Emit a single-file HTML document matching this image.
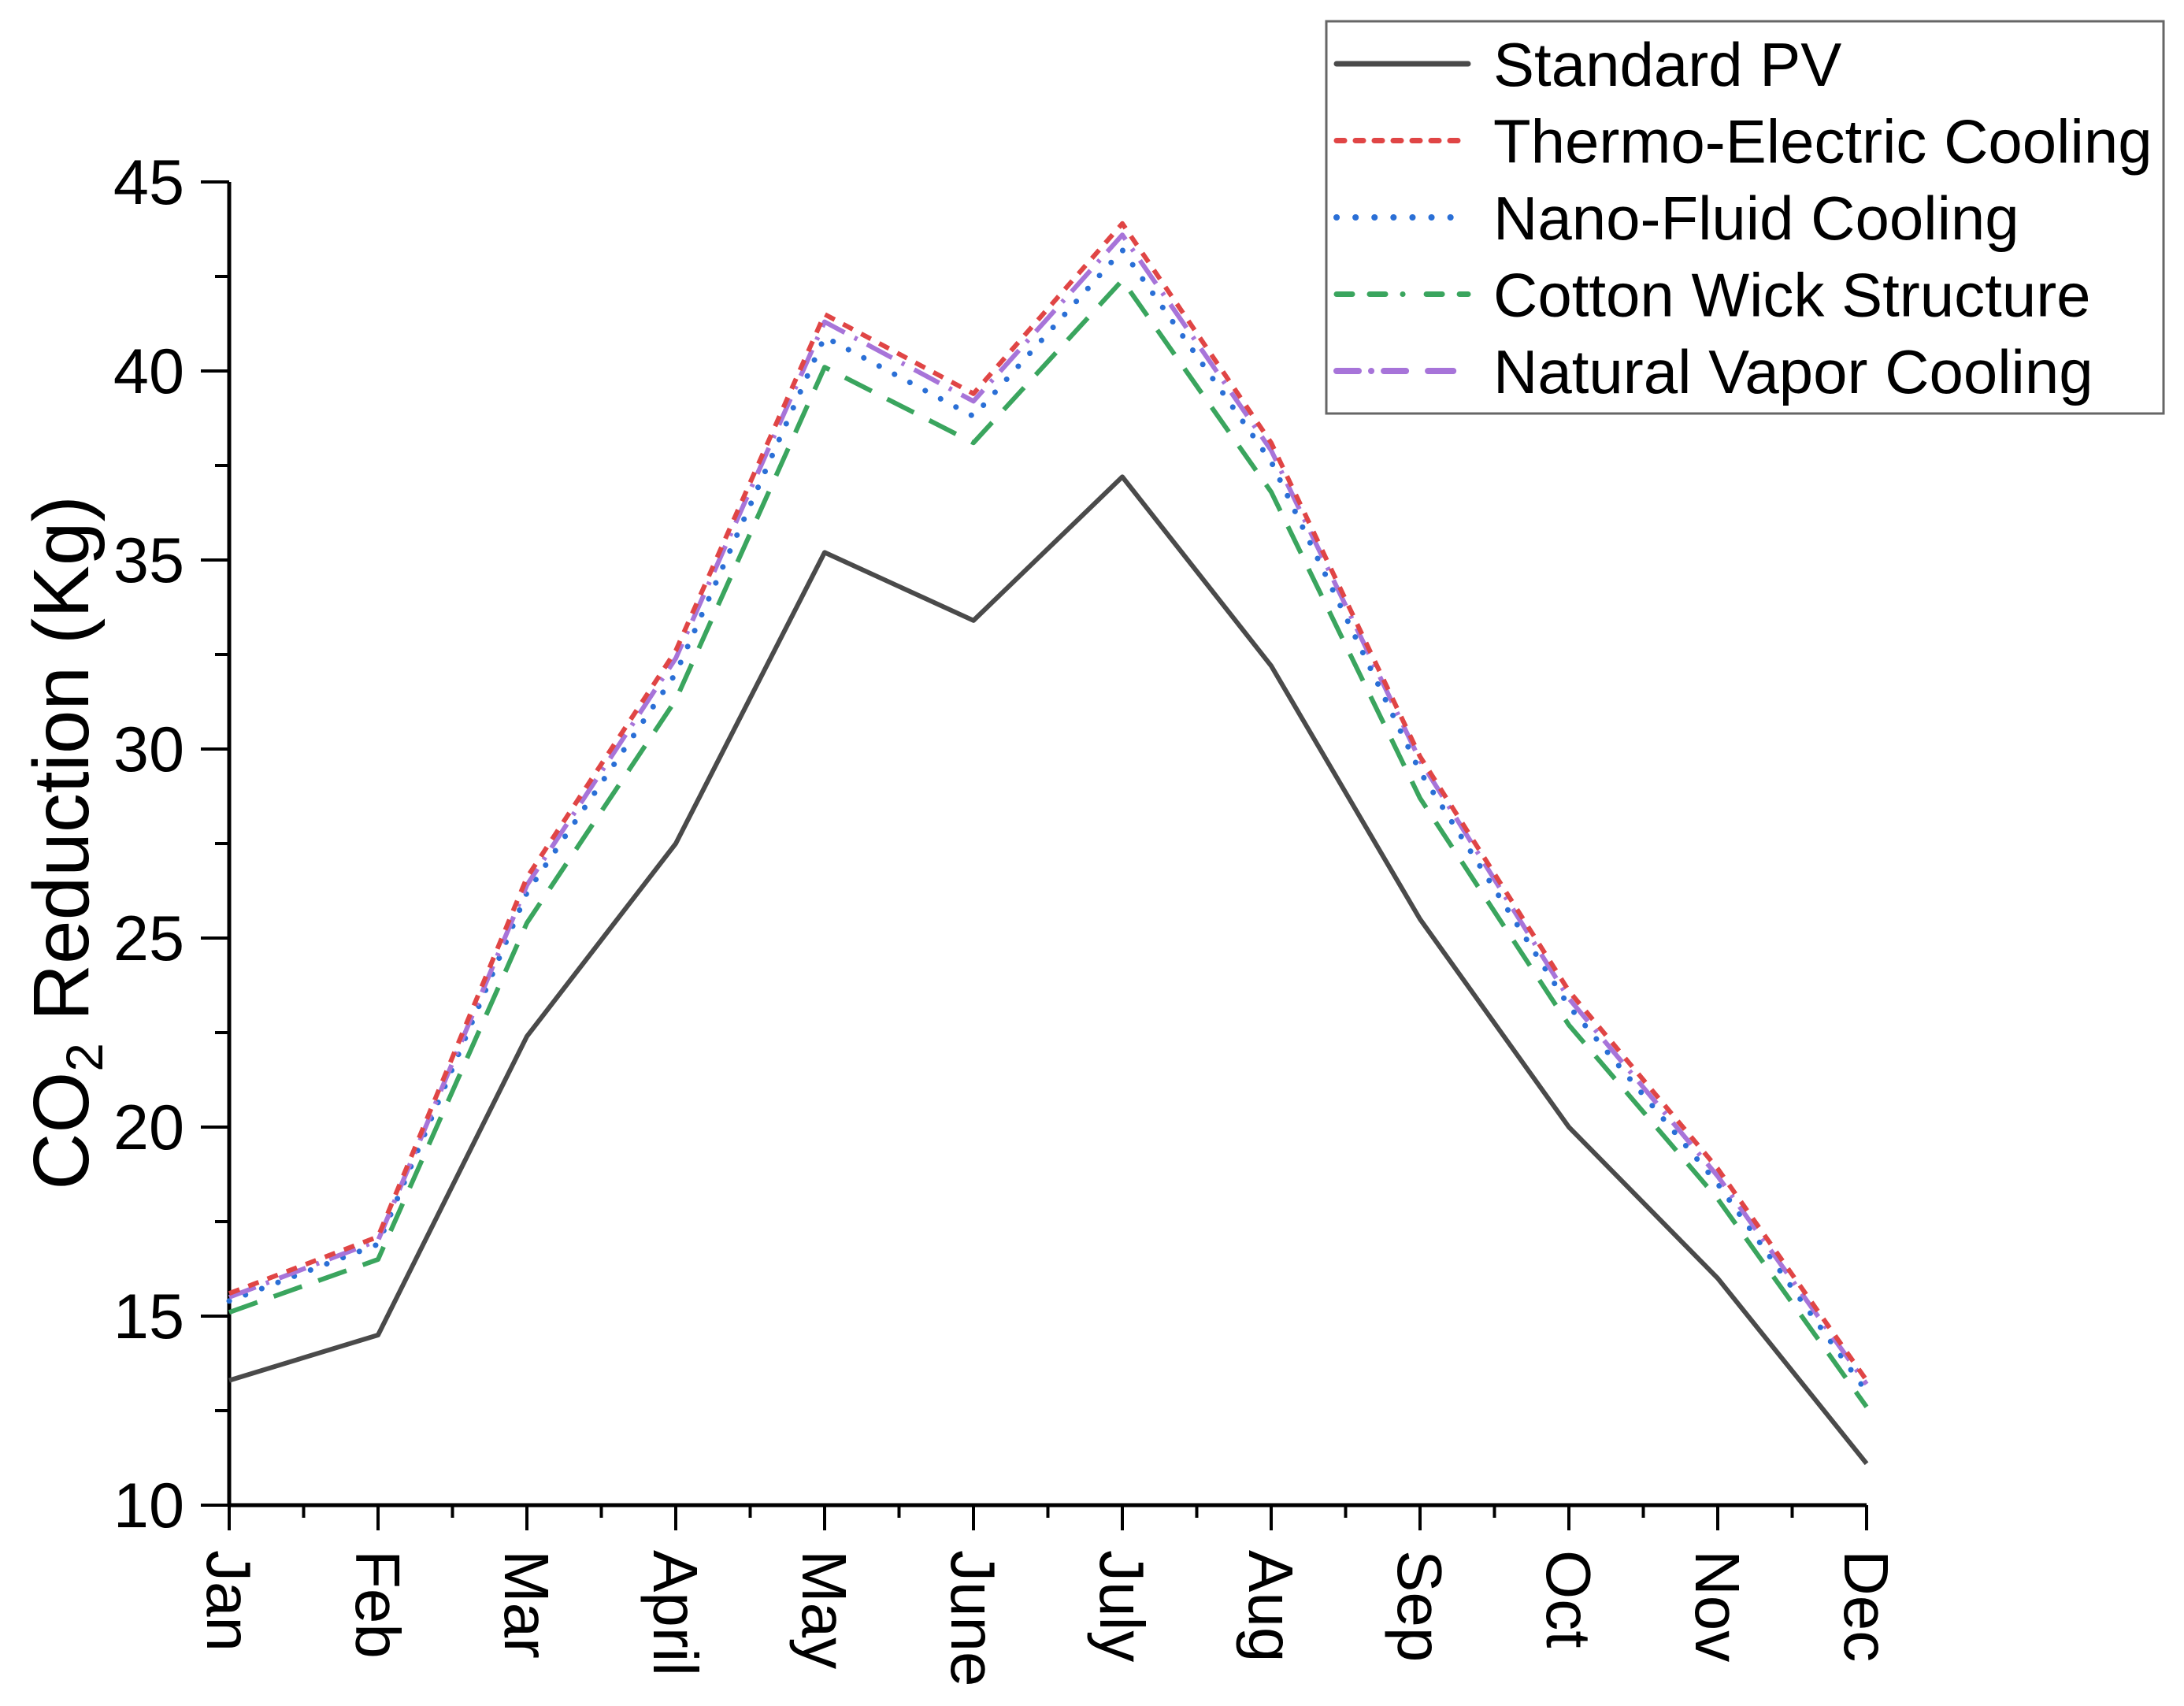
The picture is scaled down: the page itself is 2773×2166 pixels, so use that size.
<!DOCTYPE html>
<html><head><meta charset="utf-8"><style>
html,body{margin:0;padding:0;background:#fff}
svg{display:block;font-family:"Liberation Sans",Arial,sans-serif}
</style></head><body>
<svg id="chart" width="2773" height="2166" viewBox="0 0 2773 2166">
<g id="axes"></g>
<g id="series"></g>
<text transform="translate(112,1070) rotate(-90)" text-anchor="middle" font-size="100" fill="#000">CO<tspan font-size="66" dy="18">2</tspan><tspan dy="-18"> Reduction (Kg)</tspan></text>
<g>
<rect x="1684" y="27" width="1063" height="498" fill="#fff" stroke="#666" stroke-width="3"/>
<g id="legend-items"></g>
</g>
</svg>
<script>
const months = ["Jan","Feb","Mar","April","May","June","July","Aug","Sep","Oct","Nov","Dec"];
const standardPV = [13.3,14.5,22.4,27.5,35.2,33.4,37.2,32.2,25.5,20.0,16.0,11.1];
const thermoElectric = [15.6,17.1,26.6,32.6,41.5,39.4,43.9,38.1,29.8,23.6,18.9,13.3];
const nanoFluid = [15.4,16.9,26.2,32.0,40.9,38.8,43.2,37.6,29.4,23.2,18.5,13.0];
const cottonWick = [15.1,16.5,25.4,31.3,40.1,38.1,42.4,36.8,28.7,22.7,18.1,12.6];
const naturalVapor = [15.5,17.0,26.4,32.4,41.3,39.2,43.6,37.9,29.7,23.4,18.7,13.2];
const yTicks = [10,15,20,25,30,35,40,45];
const seriesNames = ["Standard PV","Thermo-Electric Cooling","Nano-Fluid Cooling","Cotton Wick Structure","Natural Vapor Cooling"];

const NS="http://www.w3.org/2000/svg";
const X0=291,X1=2370,Y0=1911,Y1=231,YMIN=10,YMAX=45;
const xs=i=>X0+(X1-X0)*i/(months.length-1);
const ys=v=>Y0-(v-YMIN)/(YMAX-YMIN)*(Y0-Y1);
function mk(tag,attrs,parent){const e=document.createElementNS(NS,tag);for(const k in attrs)e.setAttribute(k,attrs[k]);parent.appendChild(e);return e;}
const axes=document.getElementById('axes');
for(let v=YMIN;v<=YMAX+0.001;v+=2.5){
  const major=yTicks.includes(v);
  const t=mk('line',{x1:X0,x2:X0-(major?36:18),y1:ys(v),y2:ys(v),stroke:'#000','stroke-width':4},axes);
  
  
}
yTicks.forEach(v=>{
  const t=mk('text',{x:234,y:ys(v)+28,'text-anchor':'end','font-size':81,fill:'#000'},axes);
  t.textContent=v;
  
  
});
months.forEach((m,i)=>{
  const x=xs(i);
  const t=mk('line',{x1:x,x2:x,y1:Y0,y2:Y0+32,stroke:'#000','stroke-width':4},axes);
  
  
  if(i<months.length-1){
    const xm=(x+xs(i+1))/2;
    const mt=mk('line',{x1:xm,x2:xm,y1:Y0,y2:Y0+16,stroke:'#000','stroke-width':4},axes);
    
    
  }
  const l=mk('text',{transform:`translate(${x-28},1968) rotate(90)`,'text-anchor':'start','font-size':80,fill:'#000'},axes);
  l.textContent=m;
  
  
});
const ya=mk('line',{x1:X0,x2:X0,y1:Y1,y2:Y0+2,stroke:'#000','stroke-width':5},axes);


const xa=mk('line',{x1:X0-2,x2:X1,y1:Y0,y2:Y0,stroke:'#000','stroke-width':5},axes);



const styles=[
 {data:standardPV,color:'#4a4a4a',dash:'',w:6,cap:'butt',name:'standard-pv-line'},
 {data:cottonWick,color:'#3aa55e',dash:'38,22,38,22',w:6,cap:'butt',name:'cotton-wick-line'},
 {data:nanoFluid,color:'#2a6fd6',dash:'0.1,22',w:7,cap:'round',name:'nano-fluid-line'},
 {data:naturalVapor,color:'#a774d9',dash:'36,14,4,14',w:6,cap:'butt',name:'natural-vapor-line'},
 {data:thermoElectric,color:'#e04545',dash:'14,12',w:6,cap:'butt',name:'thermo-electric-line'}
];
const sg=document.getElementById('series');
styles.forEach(s=>{
  const d=s.data.map((v,i)=>(i?'L':'M')+xs(i).toFixed(1)+','+ys(v).toFixed(1)).join(' ');
  const p=mk('path',{d,fill:'none',stroke:s.color,'stroke-width':s.w,'stroke-dasharray':s.dash,'stroke-linecap':s.cap,'stroke-linejoin':'round'},sg);
  
  
});
const lg=document.getElementById('legend-items');
const legStyles=[
 {color:'#4a4a4a',dash:'',w:7,cap:'round'},
 {color:'#e04545',dash:'10,14',w:7,cap:'round'},
 {color:'#2a6fd6',dash:'0.1,24',w:8,cap:'round'},
 {color:'#3aa55e',dash:'20,22,20,22,0.1,30',w:7,cap:'round'},
 {color:'#a774d9',dash:'28,16,0.1,16,28',w:8,cap:'round'}
];
seriesNames.forEach((n,i)=>{
  const y=81+i*97.5;
  const ln=mk('line',{x1:1697,x2:1864,y1:y,y2:y,stroke:legStyles[i].color,'stroke-width':legStyles[i].w,'stroke-dasharray':legStyles[i].dash,'stroke-linecap':legStyles[i].cap},lg);
  
  
  const t=mk('text',{x:1896,y:y+28,'font-size':78,fill:'#000'},lg);
  t.textContent=n;
  
  
});
</script>
</body></html>
